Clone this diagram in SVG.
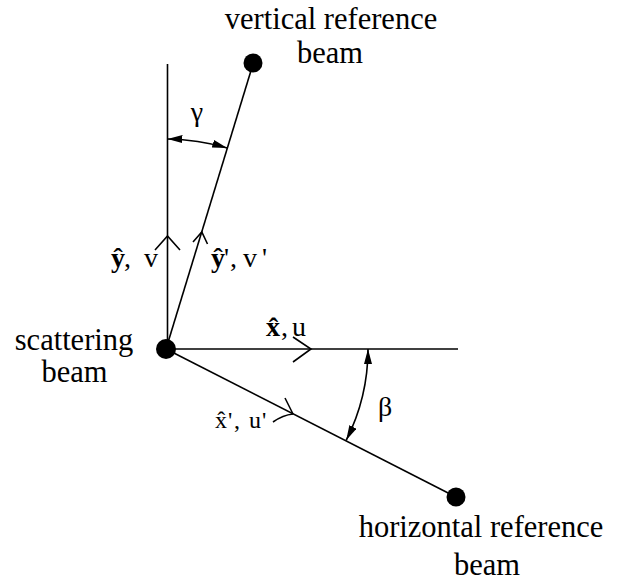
<svg xmlns="http://www.w3.org/2000/svg" width="623" height="588" viewBox="0 0 623 588">
<style>
  text { font-family: "Liberation Serif", "Times New Roman", serif; fill: #000; }
  .big { font-size: 30.5px; }
  .lab { font-size: 28px; }
  .sm { font-size: 24px; }
  .b { font-weight: bold; }
  .ln { stroke: #000; stroke-width: 1.6; fill: none; }
  .chev { stroke: #000; stroke-width: 1.6; fill: none; stroke-linejoin: miter; }
  .dot { fill: #000; }
</style>
<defs>
  <marker id="ah" markerUnits="userSpaceOnUse" markerWidth="15" markerHeight="8" refX="15" refY="4" orient="auto-start-reverse">
    <path d="M0,0 L15,4 L0,8 z" fill="#000"/>
  </marker>
</defs>
<rect width="623" height="588" fill="#fff"/>

<g id="connectors">
  <line class="ln" x1="167.5" y1="64" x2="167.5" y2="349"/>
  <line class="ln" x1="166" y1="349" x2="253" y2="64"/>
  <line class="ln" x1="166" y1="349" x2="458" y2="349"/>
  <line class="ln" x1="166" y1="349" x2="456" y2="497"/>
  <path class="chev" d="M155 250 L167.5 236 L180 250"/>
  <path class="chev" d="M193 242 L201.8 232 L207.5 244"/>
  <path class="chev" d="M293 337 L311 349 L293 362"/>
  <path class="chev" d="M285 398 L293 414"/>
  <path class="ln" d="M273 422 Q283 415 293 414"/>
  <path class="ln" d="M167.5 139 A 211 211 0 0 1 227.2 148.1" marker-start="url(#ah)" marker-end="url(#ah)"/>
  <path class="ln" d="M368 349 A 202 202 0 0 1 346.2 440.3" marker-start="url(#ah)" marker-end="url(#ah)"/>
</g>

<g id="scattering-beam">
  <circle class="dot" cx="166" cy="349" r="10"/>
  <text class="big" x="74" y="350" text-anchor="middle">scattering</text>
  <text class="big" x="74.5" y="382" text-anchor="middle">beam</text>
</g>

<g id="vertical-reference-beam">
  <circle class="dot" cx="253" cy="63" r="9.5"/>
  <text class="big" x="331" y="29" text-anchor="middle">vertical reference</text>
  <text class="big" x="330" y="63" text-anchor="middle">beam</text>
</g>

<g id="horizontal-reference-beam">
  <circle class="dot" cx="456" cy="497" r="9.5"/>
  <text class="big" x="481" y="537" text-anchor="middle">horizontal reference</text>
  <text class="big" x="487" y="575" text-anchor="middle">beam</text>
</g>

<g id="labels">
  <text class="lab" x="197" y="121" text-anchor="middle" font-size="30">γ</text>
  <text class="lab" x="385" y="416" text-anchor="middle" font-size="30">β</text>

  <text class="lab" y="267"><tspan class="b" x="111">ŷ</tspan><tspan x="124">,</tspan><tspan x="144">v</tspan></text>

  <text class="lab" y="267"><tspan class="b" x="211">ŷ</tspan><tspan x="224">'</tspan><tspan x="230">,</tspan><tspan x="243">v</tspan><tspan x="262">'</tspan></text>

  <text class="lab" y="336"><tspan class="b" x="266">x̂</tspan><tspan x="281">,</tspan><tspan x="292">u</tspan></text>

  <text class="sm" y="428"><tspan x="215">x̂</tspan><tspan x="228">'</tspan><tspan x="234">,</tspan><tspan x="249">u</tspan><tspan x="262">'</tspan></text>
</g>
</svg>
